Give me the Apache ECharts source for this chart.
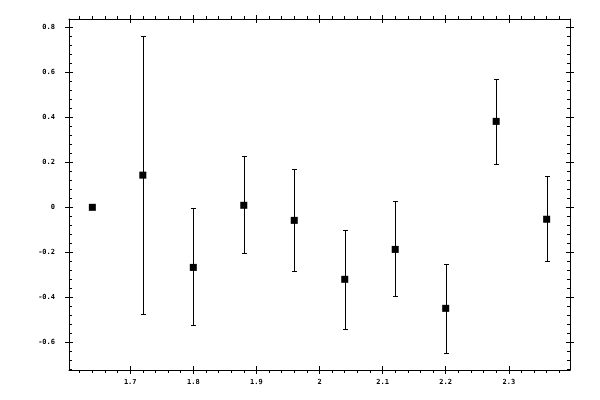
<!DOCTYPE html>
<html>
<head>
<meta charset="utf-8">
<script src="https://cdn.jsdelivr.net/npm/echarts@6/dist/echarts.min.js"></script>
<style>
html,body{margin:0;padding:0;background:#fff;}
#chart{width:600px;height:400px;}
</style>
</head>
<body>
<div id="chart"></div>
<script>
// ---- data ----
var xValues = [1.64, 1.72, 1.80, 1.88, 1.96, 2.04, 2.12, 2.20, 2.28, 2.36];
var yValues = [0, 0.143, -0.267, 0.009, -0.058, -0.320, -0.187, -0.449, 0.382, -0.053];
var yUpper  = [null, 0.762, -0.004, 0.227, 0.172, -0.100, 0.027, -0.253, 0.572, 0.138];
var yLower  = [null, -0.476, -0.523, -0.204, -0.284, -0.542, -0.396, -0.649, 0.191, -0.240];

var xMajorTicks = [1.7, 1.8, 1.9, 2.0, 2.1, 2.2, 2.3];
var yMajorTicks = [-0.6, -0.4, -0.2, 0, 0.2, 0.4, 0.6, 0.8];
var xRange = [1.603, 2.397];
var yRange = [-0.723, 0.837];

function minorTicks(start, end, step, majors) {
  var out = [];
  var n = Math.round((end - start) / step);
  for (var i = 0; i <= n; i++) {
    var v = Math.round((start + i * step) * 1000) / 1000;
    var isMajor = majors.some(function (m) { return Math.abs(m - v) < 1e-9; });
    if (!isMajor) out.push(v);
  }
  return out;
}
var xMinorTicks = minorTicks(1.62, 2.38, 0.02, xMajorTicks);
var yMinorTicks = minorTicks(-0.72, 0.8, 0.04, yMajorTicks);

var FONT = 'DejaVu Sans Mono';

function fmt(v) {
  var r = Math.round(v * 10) / 10;
  if (r === 0) return '0';
  return String(r);
}

function makeAxis(kind, pos, opts) {
  var range = kind === 'x' ? xRange : yRange;
  var a = {
    type: 'value',
    position: pos,
    min: range[0],
    max: range[1],
    splitLine: { show: false },
    axisLine: { show: !!opts.line, onZero: false, lineStyle: { color: '#000', width: 1 } },
    axisTick: {
      show: true,
      inside: !!opts.inside,
      length: opts.len,
      customValues: opts.ticks,
      lineStyle: { color: '#000', width: 1 }
    },
    axisLabel: { show: false }
  };
  if (opts.labels) {
    a.axisLabel = {
      show: true,
      customValues: opts.ticks,
      formatter: fmt,
      fontFamily: FONT,
      fontSize: 7,
      fontWeight: 'bold',
      color: '#000',
      margin: opts.margin
    };
  }
  return a;
}

var xAxes = [
  makeAxis('x', 'bottom', { line: true, inside: false, len: 4, ticks: xMajorTicks, labels: true, margin: 9 }),
  makeAxis('x', 'bottom', { inside: true, len: 4, ticks: xMajorTicks }),
  makeAxis('x', 'bottom', { inside: false, len: 3, ticks: xMinorTicks }),
  makeAxis('x', 'top', { line: true, inside: false, len: 4, ticks: xMajorTicks }),
  makeAxis('x', 'top', { inside: true, len: 4, ticks: xMajorTicks }),
  makeAxis('x', 'top', { inside: false, len: 3, ticks: xMinorTicks })
];
var yAxes = [
  makeAxis('y', 'left', { line: true, inside: false, len: 4, ticks: yMajorTicks, labels: true, margin: 14 }),
  makeAxis('y', 'left', { inside: true, len: 4, ticks: yMajorTicks }),
  makeAxis('y', 'left', { inside: true, len: 3, ticks: yMinorTicks }),
  makeAxis('y', 'right', { line: true, inside: false, len: 4, ticks: yMajorTicks }),
  makeAxis('y', 'right', { inside: true, len: 4, ticks: yMajorTicks }),
  makeAxis('y', 'right', { inside: true, len: 3, ticks: yMinorTicks })
];

var pointData = xValues.map(function (x, i) { return [x, yValues[i]]; });
var errData = [];
xValues.forEach(function (x, i) {
  if (yUpper[i] !== null && yLower[i] !== null) errData.push([x, yLower[i], yUpper[i]]);
});

var chart = echarts.init(document.getElementById('chart'), null, { renderer: 'canvas' });
chart.setOption({
  backgroundColor: '#fff',
  animation: false,
  grid: { left: 69, right: 30, top: 19, bottom: 30, containLabel: false },
  xAxis: xAxes,
  yAxis: yAxes,
  series: [
    {
      type: 'custom',
      xAxisIndex: 0,
      yAxisIndex: 0,
      data: errData,
      renderItem: function (params, api) {
        var lo = api.coord([api.value(0), api.value(1)]);
        var hi = api.coord([api.value(0), api.value(2)]);
        var x = Math.round(lo[0]) + 0.5;
        var y1 = Math.round(hi[1]) + 0.5;
        var y2 = Math.round(lo[1]) + 0.5;
        var hw = 2.5;
        var style = { stroke: '#000', lineWidth: 1, fill: null };
        return {
          type: 'group',
          children: [
            { type: 'line', shape: { x1: x, y1: y1, x2: x, y2: y2 }, style: style },
            { type: 'line', shape: { x1: x - hw, y1: y1, x2: x + hw, y2: y1 }, style: style },
            { type: 'line', shape: { x1: x - hw, y1: y2, x2: x + hw, y2: y2 }, style: style }
          ]
        };
      },
      z: 2
    },
    {
      type: 'scatter',
      xAxisIndex: 0,
      yAxisIndex: 0,
      data: pointData,
      symbol: 'rect',
      symbolSize: 7,
      itemStyle: { color: '#000', opacity: 1 },
      z: 3
    }
  ]
});
</script>
</body>
</html>
